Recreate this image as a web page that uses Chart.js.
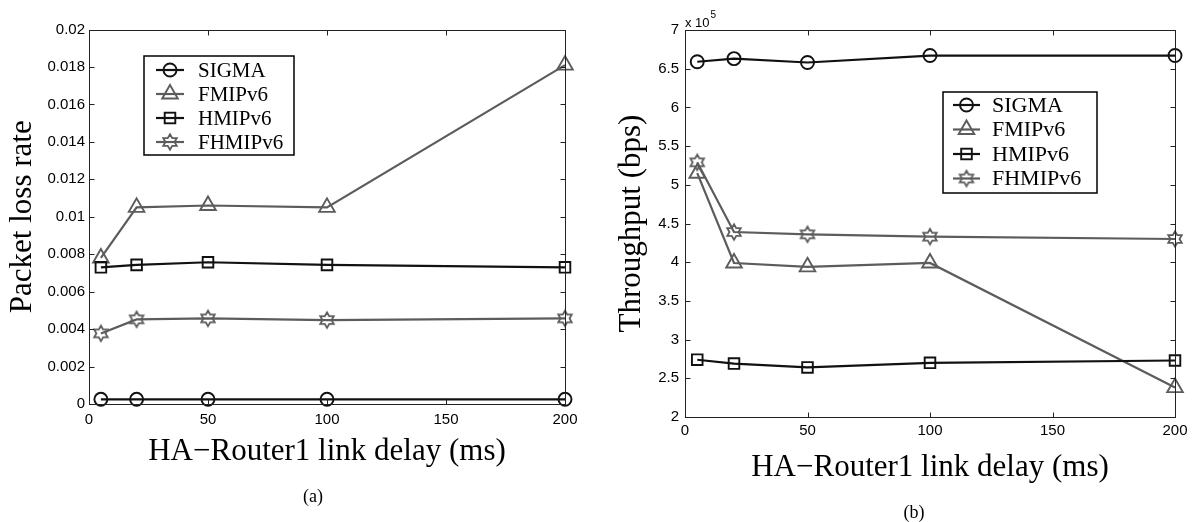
<!DOCTYPE html>
<html><head><meta charset="utf-8">
<script src="https://cdn.jsdelivr.net/npm/chart.js@4/dist/chart.umd.min.js"></script>
<style>
html,body{margin:0;padding:0;background:#fff;}
#wrap{position:relative;width:1196px;height:522px;overflow:hidden;background:#fff;}
#ca{position:absolute;left:0;top:0;}
#cb{position:absolute;left:600px;top:0;}
.cap{position:absolute;font-family:"Liberation Serif","Times New Roman",serif;font-size:18px;color:#000;transform:translate(-50%,-50%);white-space:nowrap;}
</style></head><body>
<div id="wrap">
<canvas id="ca" width="600" height="522"></canvas>
<canvas id="cb" width="596" height="522"></canvas>
<div class="cap" style="left:313px;top:496px">(a)</div>
<div class="cap" style="left:914px;top:512px">(b)</div>
</div>
<script>
// ---- data ----
const delays = [5, 20, 50, 100, 200];
const seriesNames = ['SIGMA', 'FMIPv6', 'HMIPv6', 'FHMIPv6'];
const lossSIGMA   = [0.00025, 0.00025, 0.00025, 0.00025, 0.00025];
const lossFMIPv6  = [0.0078, 0.0105, 0.0106, 0.0105, 0.0181];
const lossHMIPv6  = [0.0073, 0.00743, 0.00757, 0.00743, 0.0073];
const lossFHMIPv6 = [0.00377, 0.00452, 0.00457, 0.00448, 0.00457];
const thrSIGMA    = [659000, 663000, 658000, 667000, 667000];
const thrFMIPv6   = [515000, 399000, 394000, 399000, 238000];
const thrHMIPv6   = [274000, 269000, 264000, 270000, 273000];
const thrFHMIPv6  = [529000, 439000, 436000, 433000, 430000];
const xTicks    = [0, 50, 100, 150, 200];
const lossTicks = [0, 0.002, 0.004, 0.006, 0.008, 0.01, 0.012, 0.014, 0.016, 0.018, 0.02];
const lossLabels = ['0', '0.002', '0.004', '0.006', '0.008', '0.01', '0.012', '0.014', '0.016', '0.018', '0.02'];
const thrTicks  = [200000, 250000, 300000, 350000, 400000, 450000, 500000, 550000, 600000, 650000, 700000];
const thrLabels = ['2', '2.5', '3', '3.5', '4', '4.5', '5', '5.5', '6', '6.5', '7'];

// ---- styles ----
const BLACK = '#111111';
const GRAY = '#5c5c5c';
function hexagram(color) {
  const c = document.createElement('canvas');
  c.width = 20; c.height = 20;
  const g = c.getContext('2d');
  g.strokeStyle = color; g.lineWidth = 1.8; g.lineJoin = 'miter';
  const R = 7.8, r = R / Math.sqrt(3);
  g.beginPath();
  for (let i = 0; i < 12; i++) {
    const a = -Math.PI / 2 + i * Math.PI / 6;
    const rad = (i % 2 === 0) ? R : r;
    const px = 10 + rad * Math.cos(a), py = 10 + rad * Math.sin(a);
    if (i === 0) g.moveTo(px, py); else g.lineTo(px, py);
  }
  g.closePath(); g.stroke();
  return c;
}
const hexImg = hexagram(GRAY);
const styles = [
  {color: BLACK, pointStyle: 'circle', radius: 6.5},
  {color: GRAY, pointStyle: 'triangle', radius: 9},
  {color: BLACK, pointStyle: 'rect', radius: 7.5},
  {color: GRAY, pointStyle: hexImg, radius: 8}
];

function makeDatasets(seriesList) {
  return seriesList.map((ys, i) => ({
    label: seriesNames[i],
    data: delays.map((x, k) => ({x: x, y: ys[k]})),
    borderColor: styles[i].color,
    backgroundColor: 'rgba(0,0,0,0)',
    borderWidth: 2.2,
    pointStyle: styles[i].pointStyle,
    pointRadius: styles[i].radius,
    pointHoverRadius: styles[i].radius,
    pointBorderWidth: 1.9,
    pointBorderColor: styles[i].color,
    pointBackgroundColor: 'rgba(0,0,0,0)',
    tension: 0,
    clip: false,
    order: 4 - i
  }));
}

function drawMarker(ctx, st, x, y) {
  ctx.save();
  ctx.strokeStyle = st.color; ctx.lineWidth = 1.9;
  if (st.pointStyle === 'circle') {
    ctx.beginPath(); ctx.arc(x, y, st.radius, 0, Math.PI * 2); ctx.stroke();
  } else if (st.pointStyle === 'triangle') {
    const r = st.radius;
    ctx.beginPath();
    ctx.moveTo(x, y - r);
    ctx.lineTo(x + r * Math.sin(Math.PI * 2 / 3), y - r * Math.cos(Math.PI * 2 / 3));
    ctx.lineTo(x + r * Math.sin(Math.PI * 4 / 3), y - r * Math.cos(Math.PI * 4 / 3));
    ctx.closePath(); ctx.stroke();
  } else if (st.pointStyle === 'rect') {
    const s = st.radius * Math.SQRT1_2;
    ctx.strokeRect(x - s, y - s, 2 * s, 2 * s);
  } else {
    const img = st.pointStyle;
    ctx.drawImage(img, x - img.width / 2, y - img.height / 2);
  }
  ctx.restore();
}

const framePlugin = {
  id: 'frame',
  afterDraw(chart, args, opts) {
    const {ctx, chartArea: a, scales} = chart;
    ctx.save();
    ctx.strokeStyle = '#222'; ctx.lineWidth = 1;
    const L = Math.round(a.left) + 0.5, R = Math.round(a.right) + 0.5;
    const T = Math.round(a.top) + 0.5, B = Math.round(a.bottom) + 0.5;
    ctx.strokeRect(L, T, R - L, B - T);
    ctx.beginPath();
    scales.x.ticks.forEach(t => {
      const px = Math.round(scales.x.getPixelForValue(t.value)) + 0.5;
      ctx.moveTo(px, B); ctx.lineTo(px, B - 5);
      ctx.moveTo(px, T); ctx.lineTo(px, T + 5);
    });
    scales.y.ticks.forEach(t => {
      const py = Math.round(scales.y.getPixelForValue(t.value)) + 0.5;
      ctx.moveTo(L, py); ctx.lineTo(L + 5, py);
      ctx.moveTo(R, py); ctx.lineTo(R - 5, py);
    });
    ctx.stroke();
    if (opts.exponent) {
      ctx.fillStyle = '#000';
      ctx.textBaseline = 'alphabetic'; ctx.textAlign = 'left';
      ctx.font = '13px "Liberation Sans", Arial, sans-serif';
      ctx.fillText('x 10', a.left, 27);
      const w = ctx.measureText('x 10').width;
      ctx.font = '10px "Liberation Sans", Arial, sans-serif';
      ctx.fillText('5', a.left + w + 1, 18);
    }
    const lg = opts.legend;
    if (lg) {
      ctx.fillStyle = '#fff';
      ctx.fillRect(lg.x, lg.y, lg.w, lg.h);
      ctx.strokeStyle = '#000'; ctx.lineWidth = 1.5;
      ctx.strokeRect(lg.x, lg.y, lg.w, lg.h);
      chart.data.datasets.forEach((d, i) => {
        const y = lg.rows[i];
        ctx.strokeStyle = styles[i].color; ctx.lineWidth = 2.2;
        ctx.beginPath(); ctx.moveTo(lg.x1, y); ctx.lineTo(lg.x2, y); ctx.stroke();
        drawMarker(ctx, styles[i], (lg.x1 + lg.x2) / 2, y);
        ctx.fillStyle = '#000'; ctx.font = lg.font;
        ctx.textBaseline = 'middle'; ctx.textAlign = 'left';
        ctx.fillText(d.label, lg.tx, y + 1);
      });
    }
    ctx.restore();
  }
};

function tickSetter(arr) {
  return s => { s.ticks = arr.map(v => ({value: v})); };
}
const tickFont = {family: '"Liberation Sans", Arial, sans-serif', size: 15};
const titleFont = {family: '"Liberation Serif", "Times New Roman", serif', size: 31};

function makeChart(canvas, cfg) {
  return new Chart(canvas, {
    type: 'line',
    data: {datasets: makeDatasets(cfg.series)},
    plugins: [framePlugin],
    options: {
      responsive: false,
      animation: false,
      devicePixelRatio: 1,
      layout: {padding: cfg.padding},
      events: [],
      plugins: {
        legend: {display: false},
        tooltip: {enabled: false},
        frame: {legend: cfg.legend, exponent: cfg.exponent}
      },
      scales: {
        x: {
          type: 'linear', min: 0, max: 200,
          afterBuildTicks: tickSetter(xTicks),
          grid: {display: false, drawTicks: false},
          border: {display: false},
          ticks: {padding: cfg.xPad, font: tickFont, color: '#000', maxRotation: 0, autoSkip: false,
                  callback: v => String(v)},
          title: {display: true, text: 'HA\u2212Router1 link delay (ms)', font: titleFont, color: '#000',
                  padding: {top: 0, bottom: cfg.xTitlePad}},
          afterFit: s => { s.height = cfg.xHeight; }
        },
        y: {
          type: 'linear', min: cfg.yMin, max: cfg.yMax,
          afterBuildTicks: tickSetter(cfg.yTicks),
          grid: {display: false, drawTicks: false},
          border: {display: false},
          ticks: {padding: cfg.yPad, font: tickFont, color: '#000', autoSkip: false,
                  callback: (v) => cfg.yLabels[cfg.yTicks.indexOf(v)]},
          title: {display: true, text: cfg.yTitle, font: titleFont, color: '#000',
                  padding: {top: cfg.yTitlePad, bottom: 0}},
          afterFit: s => { s.width = cfg.yWidth; }
        }
      }
    }
  });
}

makeChart(document.getElementById('ca'), {
  series: [lossSIGMA, lossFMIPv6, lossHMIPv6, lossFHMIPv6],
  padding: {left: 0, top: 29.5, right: 35, bottom: 0},
  yMin: 0, yMax: 0.02, yTicks: lossTicks, yLabels: lossLabels,
  yTitle: 'Packet loss rate',
  xPad: 7, yPad: 4, xTitlePad: 52, yTitlePad: 4,
  xHeight: 118, yWidth: 89,
  legend: {x: 144, y: 56, w: 150, h: 99, x1: 156, x2: 184, tx: 198,
           rows: [70, 94, 118, 142], font: '21px "Liberation Serif", "Times New Roman", serif'},
  exponent: false
});

makeChart(document.getElementById('cb'), {
  series: [thrSIGMA, thrFMIPv6, thrHMIPv6, thrFHMIPv6],
  padding: {left: 0, top: 30, right: 21, bottom: 0},
  yMin: 200000, yMax: 700000, yTicks: thrTicks, yLabels: thrLabels,
  yTitle: 'Throughput (bps)',
  xPad: 5, yPad: 6, xTitlePad: 36, yTitlePad: 13,
  xHeight: 105, yWidth: 85,
  legend: {x: 343, y: 92, w: 154, h: 101, x1: 353, x2: 380, tx: 392,
           rows: [105, 129.5, 154, 178.5], font: '22px "Liberation Serif", "Times New Roman", serif'},
  exponent: true
});
</script>
</body></html>
